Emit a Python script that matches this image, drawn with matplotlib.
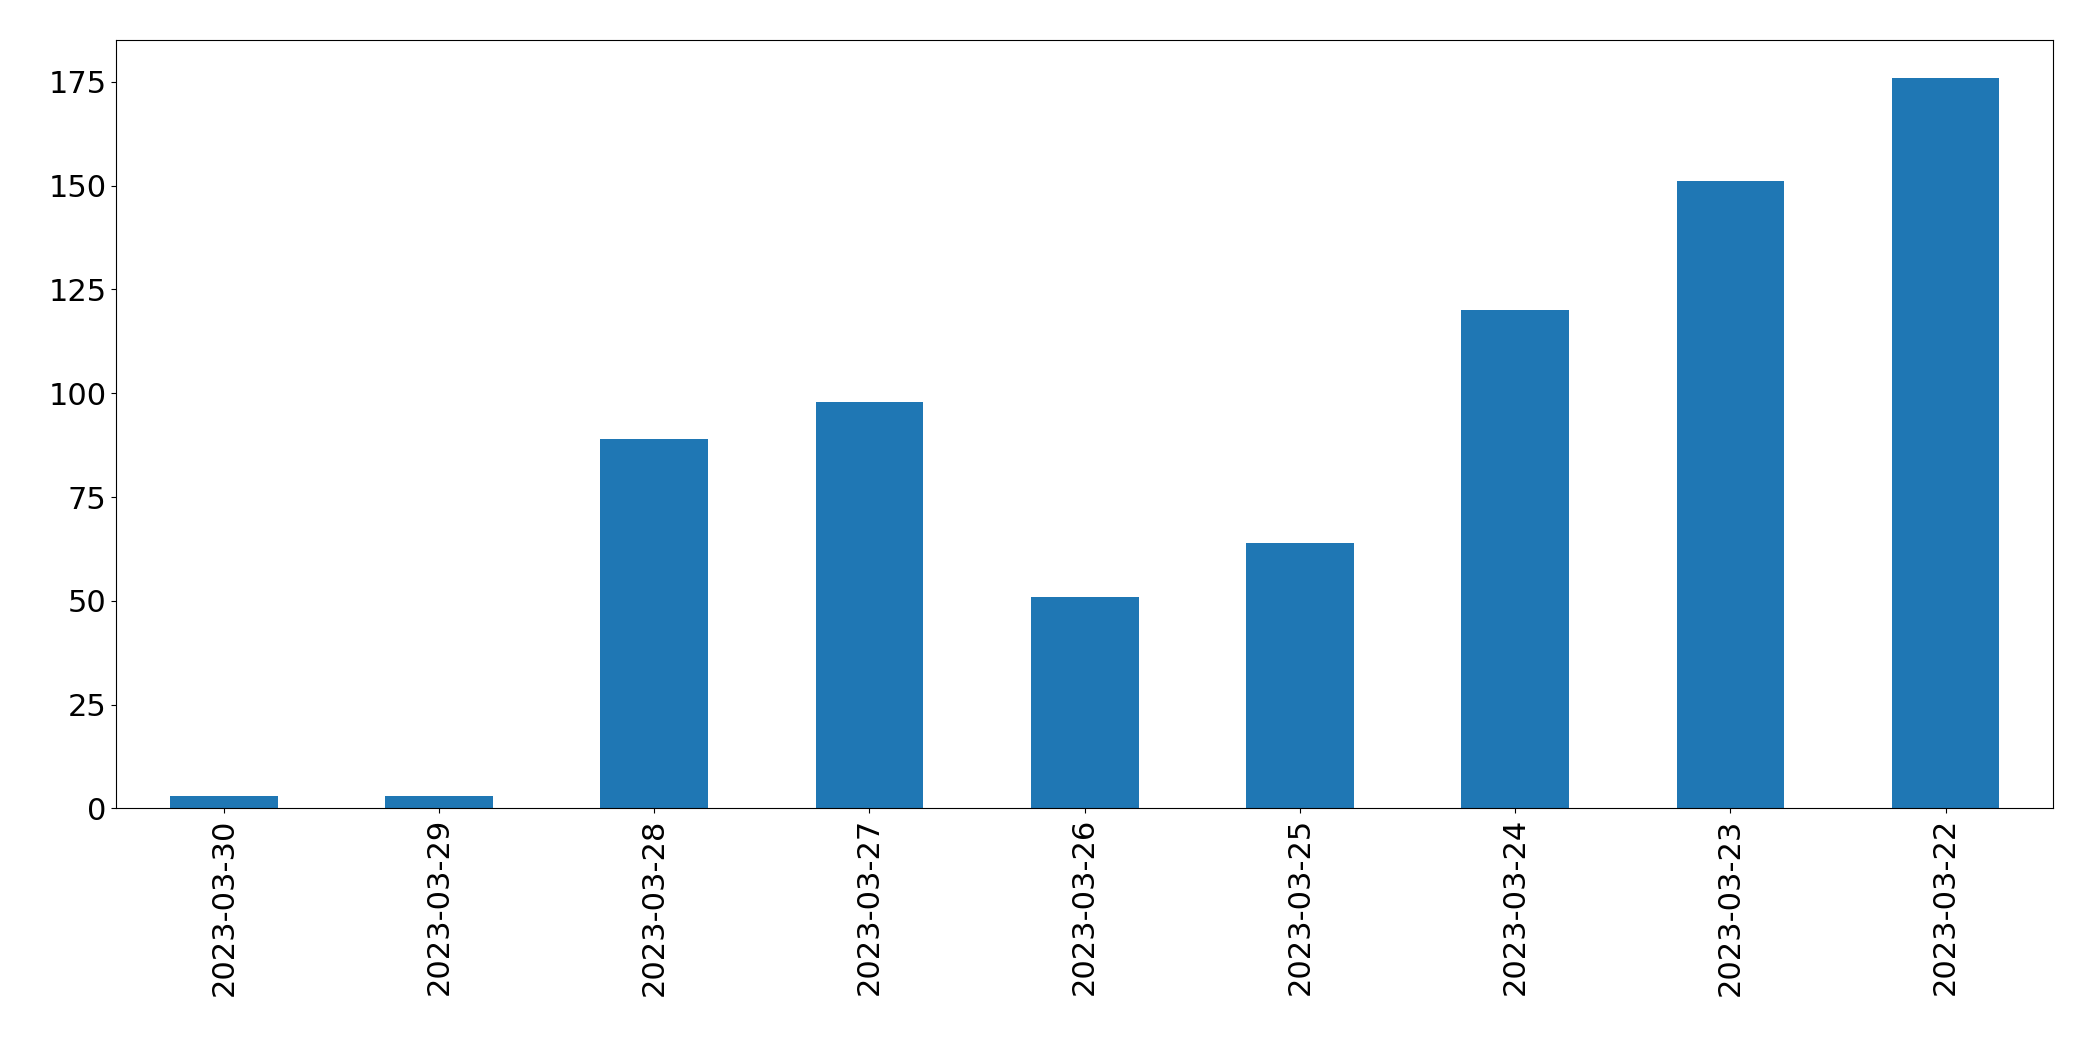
import matplotlib
matplotlib.use("Agg")
import matplotlib.pyplot as plt

dates = ["2023-03-30","2023-03-29","2023-03-28","2023-03-27","2023-03-26","2023-03-25","2023-03-24","2023-03-23","2023-03-22"]
counts = [3,3,89,98,51,64,120,151,176]

fig = plt.figure(figsize=(20.93,10.61), dpi=100)
ax = fig.add_axes([0.0555,0.238,0.9255,0.724])
ax.bar(range(len(dates)), counts, width=0.5, color="#1f77b4")
ax.set_xticks(range(len(dates)))
ax.set_xticklabels(dates, rotation=90)
ax.set_xlim(-0.5, len(dates)-0.5)
ax.set_ylim(0, 185)
ax.set_yticks([0,25,50,75,100,125,150,175])
ax.tick_params(labelsize=22)
fig.savefig("out.png", dpi=100)
